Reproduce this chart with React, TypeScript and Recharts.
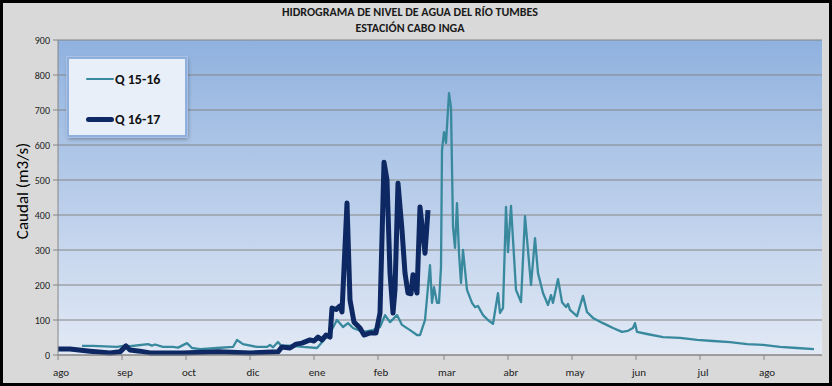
import React from 'react';
import { LineChart, Line, XAxis, YAxis, CartesianGrid } from 'recharts';

const chartTitle = ['HIDROGRAMA DE NIVEL DE AGUA DEL RÍO TUMBES', 'ESTACIÓN CABO INGA'];
const yAxisTitle = 'Caudal (m3/s)';
const monthLabels = ['ago', 'sep', 'oct', 'dic', 'ene', 'feb', 'mar', 'abr', 'may', 'jun', 'jul', 'ago'];
const monthTickDays = [0, 32, 64, 96, 128, 160, 193, 225, 257, 289, 321, 353];
const yTicks = [0, 100, 200, 300, 400, 500, 600, 700, 800, 900];

// Q 15-16 (day offset from start of axis, caudal m3/s)
const q1516Days = [
  12, 17.5, 29.5, 33.5, 36, 45, 47, 48.5, 52.5, 57.5, 60, 64.5, 67, 71, 79.5, 87.5, 89.5, 92.5,
  99.5, 104.5, 106, 107.5, 110, 111.5, 116, 122.5, 129.5, 136, 139.5, 142.5, 145, 147.5, 152.5,
  157.5, 161, 163.5, 166, 169.5, 172, 176, 179.5, 181, 183.5, 186, 187, 188, 189.5, 190.5, 191.5,
  192, 193, 194, 195.5, 196.5, 197.5, 198.5, 199.5, 200.5, 201.5, 202.5, 203.5, 204.5, 207, 208.5,
  210, 212.5, 215, 217.5, 220, 221, 222.5, 224, 225, 226.5, 229, 231.5, 233.5, 236.5, 238.5, 240,
  242.5, 245, 246.5, 247.5, 250, 252, 254, 255, 256, 259.5, 262.5, 264.5, 267.5, 272.5, 277.5, 282,
  285, 287.5, 288.5, 289.5, 294.5, 302.5, 311, 319.5, 327.5, 336, 344.5, 352.5, 361, 369.5, 378,
];
const q1516Values = [
  26, 26, 23, 27, 25, 31, 27, 30, 23, 23, 21, 34, 20, 17, 20, 23, 43, 31,
  23, 23, 29, 22, 37, 27, 27, 23, 20, 63, 100, 80, 91, 77, 66,
  71, 80, 114, 94, 114, 86, 71, 57, 57, 100, 257, 149, 194, 149, 149, 251,
  586, 637, 606, 748, 706, 366, 306, 434, 291, 206, 300, 243, 186, 149, 137,
  140, 114, 100, 89, 177, 120, 134, 423, 294, 426, 186, 151, 397, 200, 334, 234,
  177, 143, 171, 149, 217, 151, 137, 146, 129, 111, 169, 123, 106, 91, 77, 66,
  69, 77, 91, 66, 60, 51, 49, 43, 40, 37, 31, 29, 23, 20, 17,
];

// Q 16-17
const q1617Days = [
  0, 1, 6, 16, 26, 31, 34, 36, 41, 46, 62, 80, 96, 110, 112, 116, 119, 122, 126, 128, 130, 132,
  134, 136, 137, 139, 141, 142, 144.5, 146, 148, 151, 153, 156, 159, 161, 163, 164.5, 166, 167.5,
  168.5, 170, 172, 173.5, 175, 176.5, 177.5, 179.5, 181, 183.5, 185,
];
const q1617Values = [
  17, 17, 17, 11, 6, 9, 26, 14, 11, 6, 6, 9, 6, 9, 23, 20, 31, 34, 43, 40, 51, 43,
  57, 51, 134, 130, 140, 123, 434, 157, 94, 77, 57, 63, 63, 120, 551, 500, 234, 120,
  186, 491, 357, 234, 177, 175, 229, 177, 423, 291, 414,
];

const seriesStyles = [
  { name: 'Q 15-16', color: '#38899d', width: 2.3 },
  { name: 'Q 16-17', color: '#0d2862', width: 5 },
];

const q1516Data = q1516Days.map((d, i) => ({ d, v: q1516Values[i] }));
const q1617Data = q1617Days.map((d, i) => ({ d, v: q1617Values[i] }));

const FONT = 'Carlito, "Liberation Sans Narrow", "Liberation Sans", Arial, sans-serif';

export default function App() {
  return (
    <div
      style={{
        position: 'absolute',
        left: 0,
        top: 0,
        width: 832,
        height: 386,
        boxSizing: 'border-box',
        border: '3px solid #000',
        background: '#d9d9d9',
        fontFamily: FONT,
      }}
    >
      <svg width={0} height={0} style={{ position: 'absolute' }}>
        <defs>
          <linearGradient id="plotBg" x1="0" y1="0" x2="0" y2="1">
            <stop offset="0%" stopColor="#90b2df" />
            <stop offset="100%" stopColor="#e2e9f5" />
          </linearGradient>
        </defs>
      </svg>
      <div
        style={{
          position: 'absolute',
          left: 0,
          right: 0,
          top: 1,
          textAlign: 'center',
          fontWeight: 'bold',
          fontSize: 12,
          lineHeight: '16px',
          color: '#1a1a1a',
          paddingRight: 12,
        }}
      >
        <div>{chartTitle[0]}</div>
        <div>{chartTitle[1]}</div>
      </div>
      <LineChart
        width={826}
        height={380}
        margin={{ top: 37, right: 7, bottom: 0, left: 0 }}
        style={{ position: 'absolute', left: 0, top: 0 }}
      >
        <CartesianGrid vertical={false} stroke="#858585" fill="url(#plotBg)" fillOpacity={1} />
        <XAxis
          dataKey="d"
          type="number"
          domain={[0, 382]}
          ticks={monthTickDays}
          interval={0}
          tickFormatter={(v: number, i: number) => monthLabels[i]}
          height={28}
          tickSize={5}
          tickMargin={8}
          axisLine={{ stroke: '#868686' }}
          tickLine={{ stroke: '#868686' }}
          tick={{ fontSize: 11, fill: '#222', fontFamily: FONT, dx: 3 }}
          allowDataOverflow
        />
        <XAxis
          xAxisId="top"
          orientation="top"
          type="number"
          domain={[0, 382]}
          height={0}
          tick={false}
          tickLine={false}
          axisLine={{ stroke: '#000' }}
        />
        <YAxis
          type="number"
          domain={[0, 900]}
          ticks={yTicks}
          interval={0}
          width={55}
          tickSize={5}
          tickMargin={3}
          axisLine={{ stroke: '#868686' }}
          tickLine={{ stroke: '#868686' }}
          tick={{ fontSize: 10, fill: '#222', fontFamily: FONT }}
          label={() => (
            <text
              x={19}
              y={188}
              transform="rotate(-90, 19, 188)"
              textAnchor="middle"
              dominantBaseline="central"
              fontSize={17}
              fill="#000"
              fontFamily={FONT}
            >
              {yAxisTitle}
            </text>
          )}
        />
        <YAxis
          yAxisId="right"
          orientation="right"
          type="number"
          domain={[0, 900]}
          width={0}
          tick={false}
          tickLine={false}
          axisLine={{ stroke: '#000' }}
        />
        <Line
          data={q1516Data}
          dataKey="v"
          name={seriesStyles[0].name}
          type="linear"
          stroke={seriesStyles[0].color}
          strokeWidth={seriesStyles[0].width}
          dot={false}
          isAnimationActive={false}
          strokeLinejoin="round"
        />
        <Line
          data={q1617Data}
          dataKey="v"
          name={seriesStyles[1].name}
          type="linear"
          stroke={seriesStyles[1].color}
          strokeWidth={seriesStyles[1].width}
          dot={false}
          isAnimationActive={false}
          strokeLinejoin="round"
        />
      </LineChart>
      <div
        style={{
          position: 'absolute',
          left: 64,
          top: 54,
          width: 116,
          height: 76,
          border: '2px solid #8fafdd',
          outline: '1px solid #a9c0e4',
          background: '#e8eff9',
          boxShadow: '1px 2px 4px rgba(0,0,0,0.35)',
        }}
      >
        {seriesStyles.map((s, i) => (
          <div
            key={s.name}
            style={{
              position: 'absolute',
              left: 17,
              top: 11 + i * 40,
              height: 18,
              display: 'flex',
              alignItems: 'center',
            }}
          >
            <div style={{ width: 28, height: s.width, background: s.color, borderRadius: s.width / 2 }} />
            <span style={{ marginLeft: 1, fontWeight: 'bold', fontSize: 14, color: '#111' }}>{s.name}</span>
          </div>
        ))}
      </div>
    </div>
  );
}
